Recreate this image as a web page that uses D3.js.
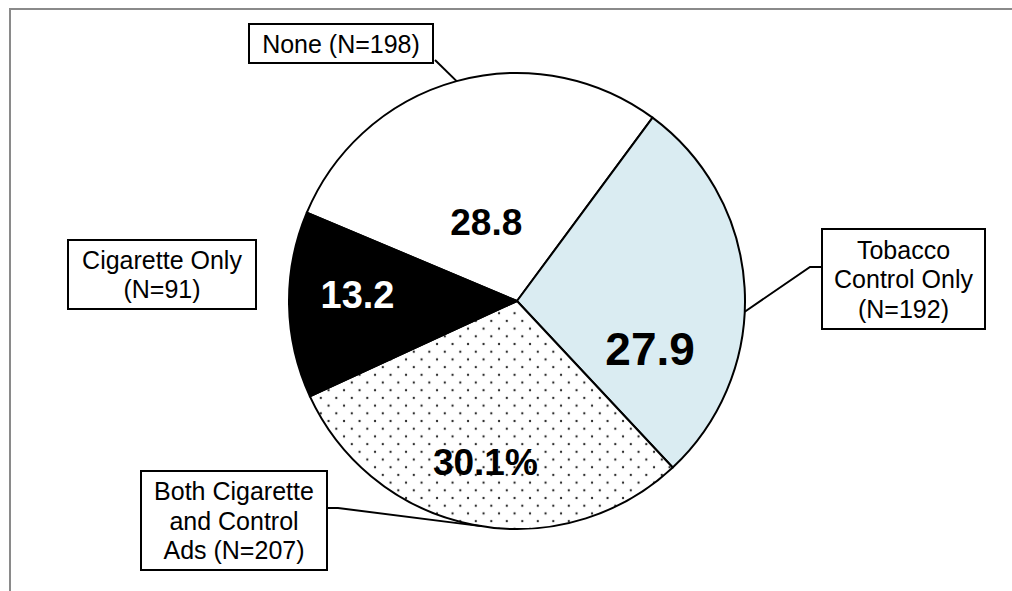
<!DOCTYPE html>
<html>
<head>
<meta charset="utf-8">
<script src="https://cdn.jsdelivr.net/npm/d3@7"></script>
<style>
  html, body { margin: 0; padding: 0; background: #fff; }
  svg { display: block; }
  text { font-family: "Liberation Sans", Arial, Helvetica, sans-serif; }
</style>
</head>
<body>
<svg id="chart" width="1012" height="591"></svg>
<script>
// Ad exposure groups, share of respondents (%)
const categories = ["None", "Tobacco Control Only", "Both Cigarette and Control Ads", "Cigarette Only"];
const shares = [28.8, 27.9, 30.1, 13.2];
const valueLabels = ["28.8", "27.9", "30.1%", "13.2"];
const calloutLines = [
  ["None (N=198)"],
  ["Tobacco", "Control Only", "(N=192)"],
  ["Both Cigarette", "and Control", "Ads (N=207)"],
  ["Cigarette Only", "(N=91)"]
];

// Styling and placement
const fills = ["#ffffff", "#daecf2", "url(#dots)", "#000000"];
const valueColors = ["#000", "#000", "#000", "#fff"];
const valueSizes = [37, 46, 37, 38];
// label anchor: radius (fraction of pie radius) and angle nudge (deg) from slice middle
const valuePlacement = [
  { r: 0.37, nudge: -6 },
  { r: 0.62, nudge: 23 },
  { r: 0.72, nudge: 0 },
  { r: 0.70, nudge: 3 }
];
// callout boxes [x, y, w, h] and where their leader leaves the box
const calloutBoxes = [
  { box: [249, 24, 184, 39], from: "corner" },
  { box: [822, 229, 163, 100], from: "left" },
  { box: [141, 471, 186, 99], from: "right" },
  { box: [68, 240, 188, 69], from: null }
];
const leaderNudge = [0, 6, -2, 0];

const svg = d3.select("#chart");
const W = 1012, H = 591;
const cx = 517, cy = 301, R = 228;

// Outer frame (top and left rules)
svg.append("line").attr("x1", 9).attr("y1", 9).attr("x2", W).attr("y2", 9)
  .attr("stroke", "#8a8a8a").attr("stroke-width", 2);
svg.append("line").attr("x1", 10).attr("y1", 8).attr("x2", 10).attr("y2", H)
  .attr("stroke", "#8a8a8a").attr("stroke-width", 2);

// Dotted fill
const defs = svg.append("defs");
const pat = defs.append("pattern").attr("id", "dots")
  .attr("patternUnits", "userSpaceOnUse")
  .attr("x", 5.3).attr("y", 4.5)
  .attr("width", 15.5).attr("height", 15.4);
pat.append("rect").attr("width", 15.5).attr("height", 15.4).attr("fill", "#fff");
[[0, 0], [15.5, 0], [0, 15.4], [15.5, 15.4], [7.75, 7.7]].forEach(([x, y]) => {
  pat.append("circle").attr("cx", x).attr("cy", y).attr("r", 1.15).attr("fill", "#2a2a2a");
});

const data = categories.map((c, i) => ({ cat: c, value: shares[i], i }));

const deg = Math.PI / 180;
const pie = d3.pie().sort(null).value(d => d.value)
  .startAngle(-67.2 * deg).endAngle(292.8 * deg);
const arcs = pie(data);
const arc = d3.arc().innerRadius(0).outerRadius(R);

const g = svg.append("g").attr("transform", `translate(${cx},${cy})`);

g.selectAll("path.slice").data(arcs).enter().append("path")
  .attr("class", "slice")
  .attr("d", arc)
  .attr("fill", d => fills[d.data.i])
  .attr("stroke", "#000")
  .attr("stroke-width", 2)
  .attr("stroke-linejoin", "round");

// polar helper (angle measured clockwise from 12 o'clock)
const polar = (a, r) => [Math.sin(a) * r, -Math.cos(a) * r];

// Value labels
g.selectAll("text.value").data(arcs).enter().append("text")
  .attr("class", "value")
  .each(function (d) {
    const p = valuePlacement[d.data.i];
    const a = (d.startAngle + d.endAngle) / 2 + p.nudge * deg;
    const [x, y] = polar(a, R * p.r);
    d3.select(this).attr("x", x).attr("y", y);
  })
  .attr("text-anchor", "middle")
  .attr("dominant-baseline", "central")
  .attr("font-weight", "bold")
  .attr("font-size", d => valueSizes[d.data.i])
  .attr("fill", d => valueColors[d.data.i])
  .text(d => valueLabels[d.data.i]);

// Callouts: leader lines then boxes
arcs.forEach(d => {
  const i = d.data.i;
  const cb = calloutBoxes[i];
  const [bx, by, bw, bh] = cb.box;
  if (cb.from) {
    const a = (d.startAngle + d.endAngle) / 2 + leaderNudge[i] * deg;
    const [ex, ey] = polar(a, R);
    const end = [cx + ex, cy + ey];
    let pts;
    if (cb.from === "corner") {
      pts = [[bx + bw + 2, by + bh - 3], end];
    } else if (cb.from === "left") {
      const yy = by + 38;
      pts = [[bx, yy], [bx - 12, yy], end];
    } else {
      const yy = by + 37;
      pts = [[bx + bw, yy], [bx + bw + 11, yy], end];
    }
    svg.append("path")
      .attr("d", d3.line()(pts))
      .attr("fill", "none")
      .attr("stroke", "#000")
      .attr("stroke-width", 2);
  }
  svg.append("rect")
    .attr("x", bx).attr("y", by).attr("width", bw).attr("height", bh)
    .attr("fill", "#fff").attr("stroke", "#000").attr("stroke-width", 2);
  const lines = calloutLines[i];
  const lh = 29.5;
  const t = svg.append("text")
    .attr("text-anchor", "middle")
    .attr("font-size", 25)
    .attr("fill", "#000");
  const top = by + bh / 2 - (lines.length - 1) * lh / 2;
  lines.forEach((ln, k) => {
    t.append("tspan")
      .attr("x", bx + bw / 2)
      .attr("y", top + k * lh)
      .attr("dominant-baseline", "central")
      .text(ln);
  });
});
</script>
</body>
</html>
